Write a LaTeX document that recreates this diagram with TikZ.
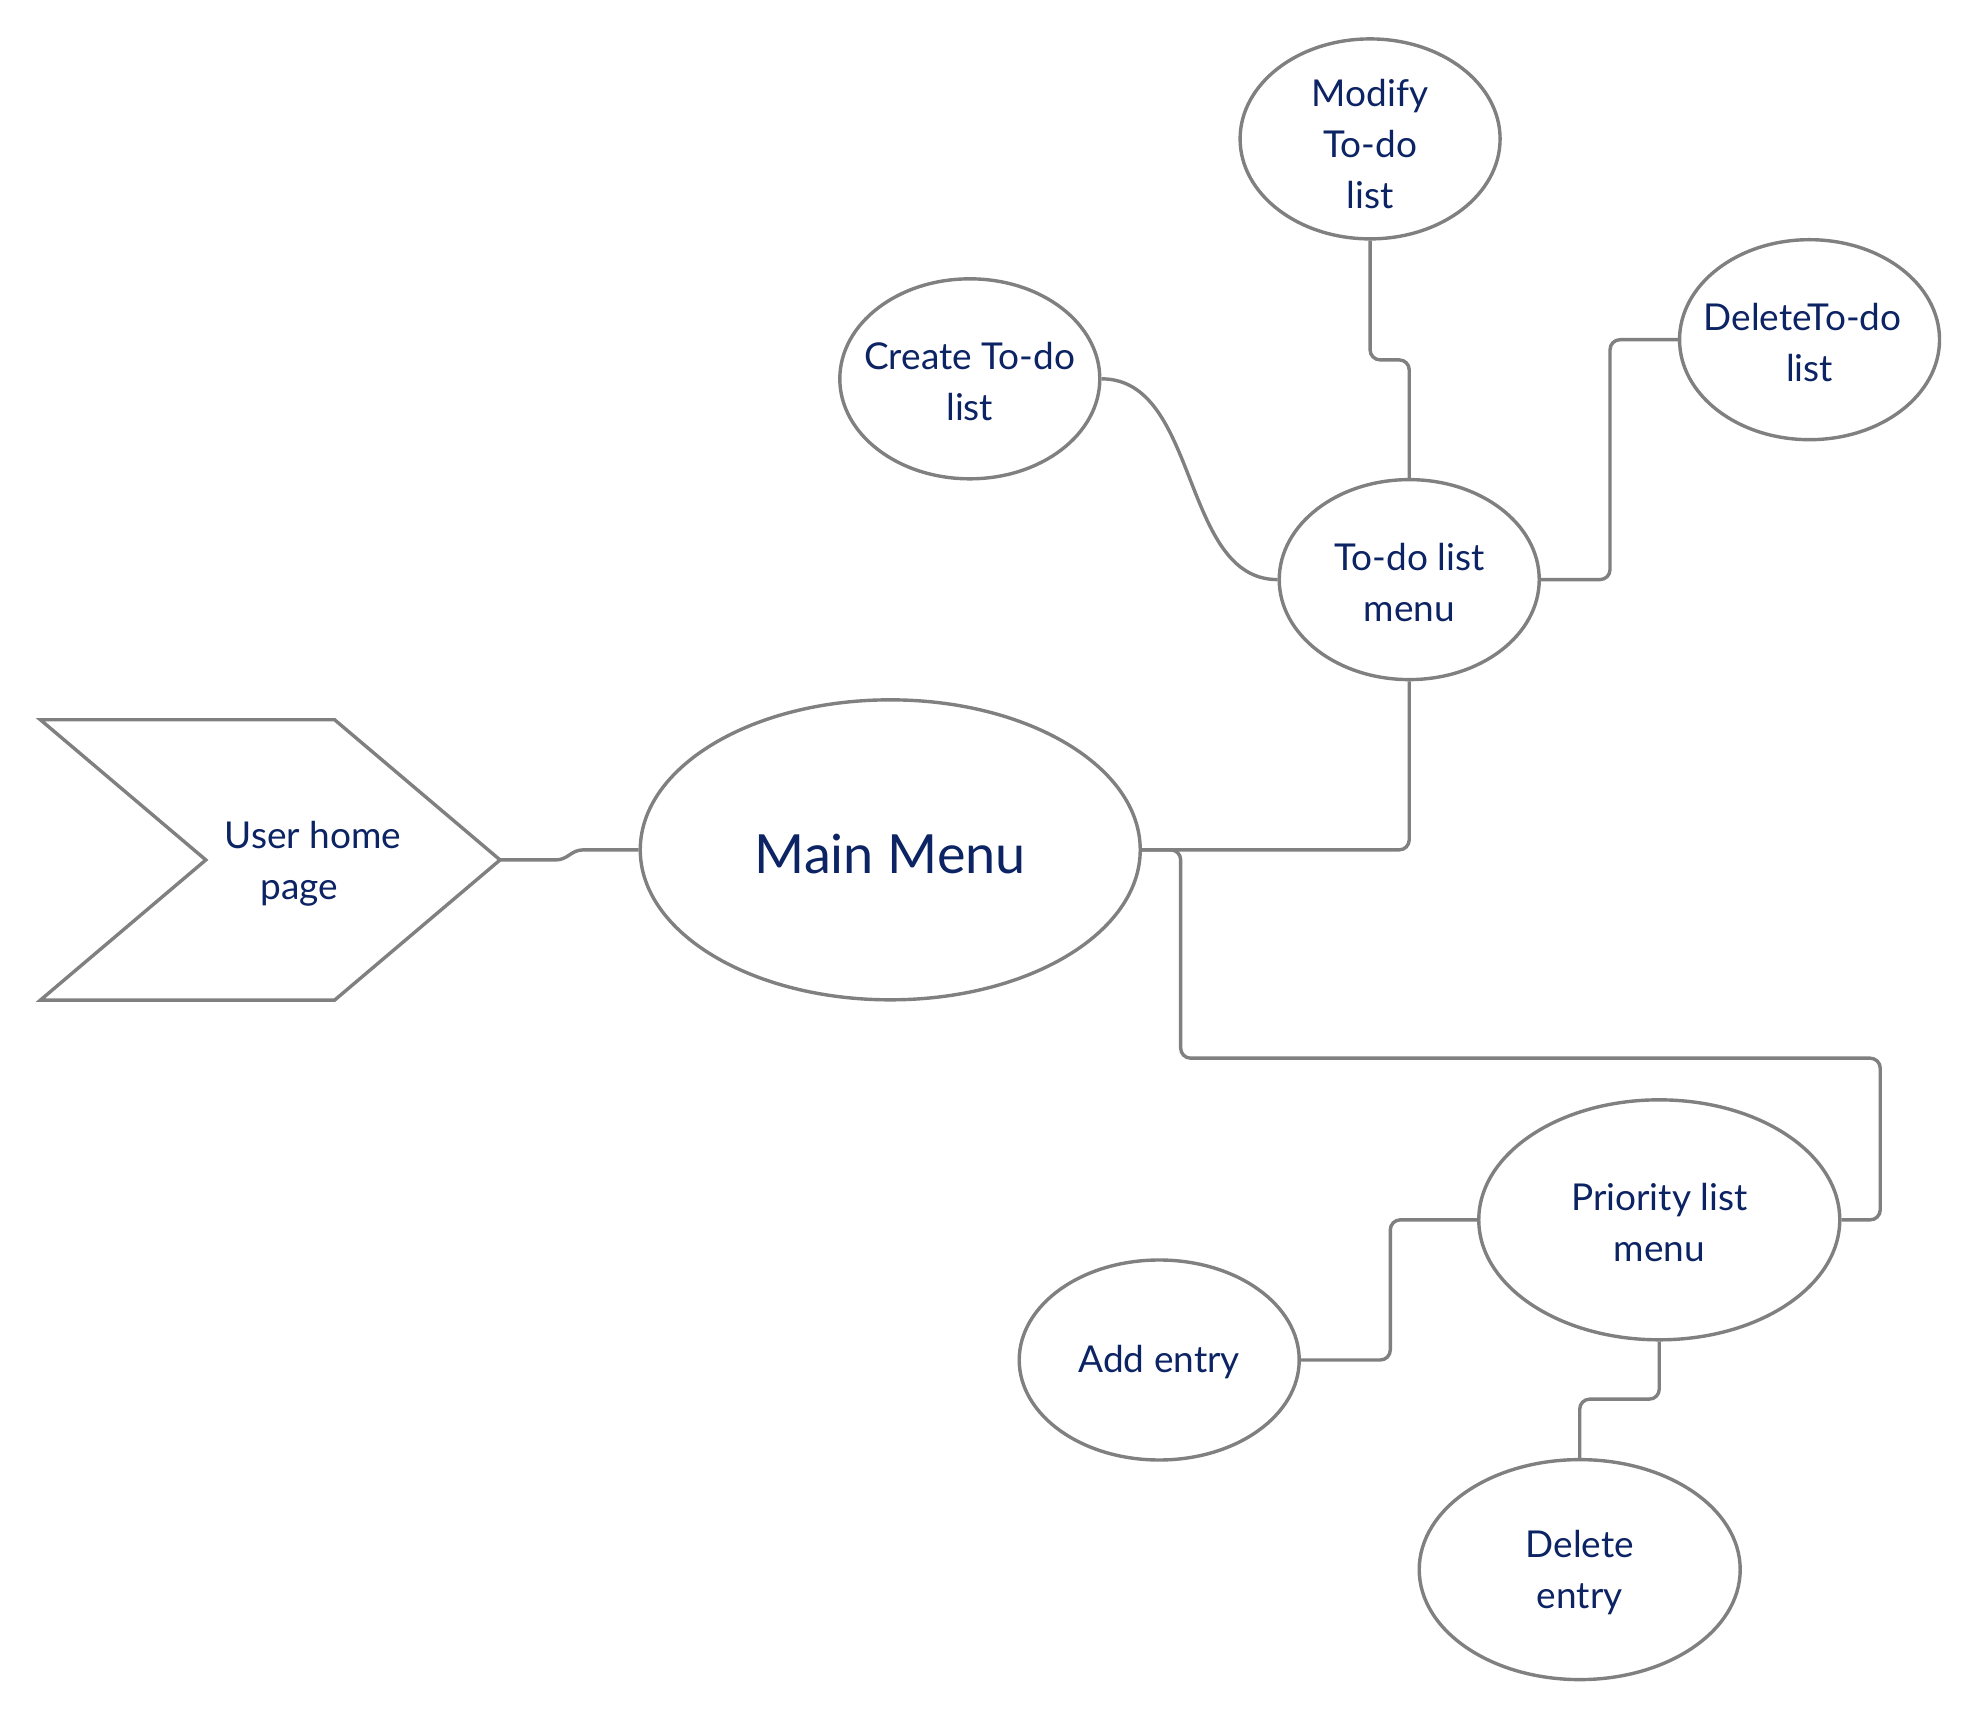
\documentclass[tikz,border=0pt]{standalone}
\usepackage{fontspec}
\setmainfont{Lato}
\usetikzlibrary{shapes.geometric}
\definecolor{txt}{RGB}{12,35,100}
\definecolor{ln}{RGB}{128,128,128}
\begin{document}
\begin{tikzpicture}[x=1.2628pt,y=-1.2628pt,
  ell/.style={ellipse,draw=ln,line width=3.4pt,fill=white,inner sep=0pt},
  lbl/.style={text=txt,align=center,inner sep=0pt,font=\fontsize{37}{51}\selectfont,yshift=-2.5pt},
  conn/.style={draw=ln,line width=3.4pt,rounded corners=10pt}]
\useasboundingbox[fill=white] (0,0) rectangle (1568,1362);
% chevron
\draw[ln,line width=3.4pt,line join=miter] (32,570) -- (265,570) -- (396,681) -- (265,792) -- (32,792) -- (163,681) -- cycle;
\coordinate (uhtip) at (396,681);
\node[lbl] (uh) at (248,682) {User home\\page\hspace*{28pt}};
% ellipses
\node[ell,minimum width=500pt,minimum height=300pt] (main) at (705,673) {};
\node[lbl,font=\fontsize{54}{60}\selectfont,yshift=-1.5pt] (main-t) at (main) {Main Menu};
\node[ell,minimum width=260pt,minimum height=200pt] (todo) at (1116,459) {};
\node[lbl] (todo-t) at (todo) {To-do list\\menu};
\node[ell,minimum width=260pt,minimum height=200pt] (create) at (768,300) {};
\node[lbl] (create-t) at (create) {Create To-do\\list};
\node[ell,minimum width=260pt,minimum height=200pt] (modify) at (1085,110) {};
\node[lbl] (modify-t) at (1085,112) {Modify\\To-do\\list};
\node[ell,minimum width=260pt,minimum height=200pt] (deltodo) at (1433,269) {};
\node[lbl] (deltodo-t) at (deltodo) {DeleteTo-do\hspace*{14pt}\\list};
\node[ell,minimum width=361pt,minimum height=240pt] (prio) at (1314,966) {};
\node[lbl] (prio-t) at (prio) {Priority list\\menu};
\node[ell,minimum width=280pt,minimum height=200pt] (add) at (918,1077) {};
\node[lbl] (add-t) at (add) {Add entry};
\node[ell,minimum width=321pt,minimum height=220pt] (delentry) at (1251,1243) {};
\node[lbl] (delentry-t) at (delentry) {Delete\\entry};
% connectors
\draw[conn] (uhtip) -- (432,681) .. controls (450,681) and (452,673) .. (470,673) -- (main.west);
\draw[conn] (main.east) -| (todo.south);
\draw[conn] (main.east) -- (935,673) -- (935,838) -- (1489,838) -- (1489,966) -- (prio.east);
\draw[conn] (create.east) .. controls (950,300) and (935,459) .. (todo.west);
\draw[conn] (todo.north) -- (1116,285) -- (1085,285) -- (modify.south);
\draw[conn] (todo.east) -- (1275,459) -- (1275,269) -- (deltodo.west);
\draw[conn] (prio.west) -- (1101,966) -- (1101,1077) -- (add.east);
\draw[conn] (prio.south) -- (1314,1108) -- (1251,1108) -- (delentry.north);
\end{tikzpicture}
\end{document}
